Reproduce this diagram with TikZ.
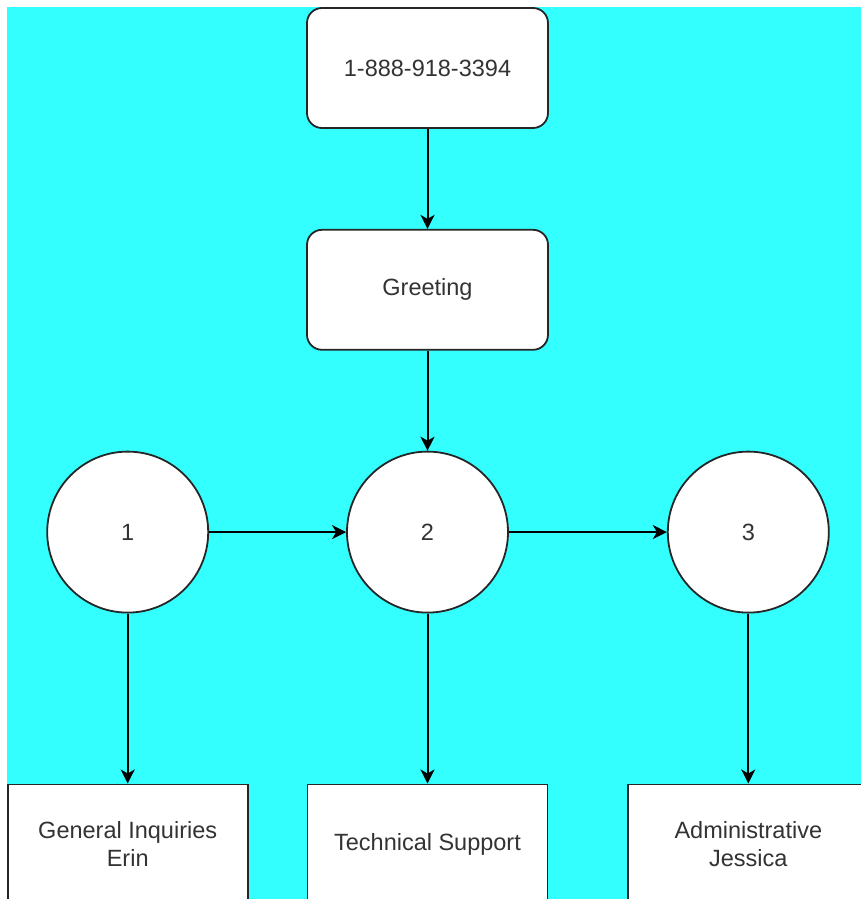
\documentclass[tikz,border=0pt]{standalone}
\usepackage{fontspec}
\setmainfont{Liberation Sans}
\usetikzlibrary{positioning,arrows.meta}
\definecolor{bgcyan}{HTML}{33FFFF}
\definecolor{txtgray}{HTML}{333333}
\tikzstyle{base} = [draw=black!85, line width=1.8pt, fill=white, text=txtgray, font=\fontsize{23.5}{28}\selectfont, align=center]
\tikzstyle{rbox} = [base, rectangle, rounded corners=15pt, minimum width=241pt, minimum height=120pt]
\tikzstyle{sbox} = [base, rectangle, minimum width=240pt, minimum height=120pt]
\tikzstyle{opt} = [base, circle, minimum size=161pt, inner sep=0pt]
\tikzstyle{link} = [-{Stealth[length=14pt, width=14pt, inset=4pt]}, line width=2pt]

\begin{document}
\begin{tikzpicture}[x=1pt, y=1pt]
    \useasboundingbox (0,0) rectangle (860,-899);
    \fill [bgcyan] (7,-7) rectangle (880,-920);

    \node [rbox] (phone) at (427.5,-68) {1-888-918-3394};
    \node [rbox, below=100pt of phone] (greet) {Greeting};

    \node [opt, below=100pt of greet] (opt2) {2};
    \node [opt, left=137pt of opt2] (opt1) {1};
    \node [opt, right=158pt of opt2] (opt3) {3};

    \node [sbox, below=170pt of opt1] (general) {General Inquiries\\Erin};
    \node [sbox, below=170pt of opt2] (tech) {Technical Support};
    \node [sbox, below=170pt of opt3] (admin) {Administrative\\Jessica};

    \draw [link] (phone) -- (greet);
    \draw [link] (greet) -- (opt2);
    \draw [link] (opt1) -- (opt2);
    \draw [link] (opt2) -- (opt3);
    \draw [link] (opt1) -- (general);
    \draw [link] (opt2) -- (tech);
    \draw [link] (opt3) -- (admin);
\end{tikzpicture}
\end{document}
